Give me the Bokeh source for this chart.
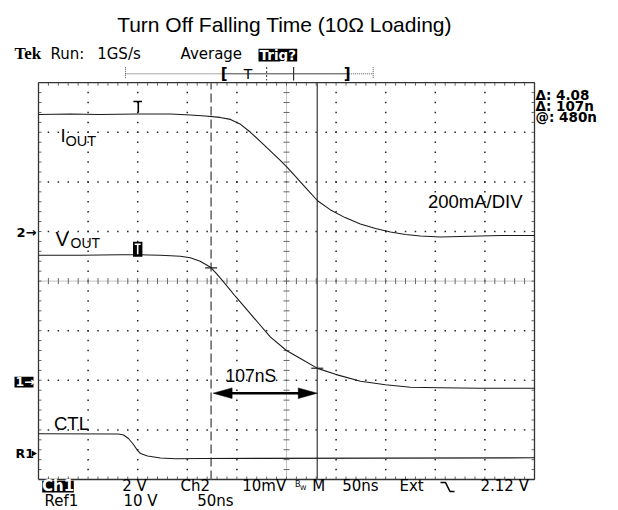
import numpy as np
from bokeh.plotting import figure
from bokeh.models import Range1d
from bokeh.core.properties import value
from bokeh.embed import file_html
from bokeh.resources import INLINE

# ---------------- data (time: ns from left screen edge, level: divisions from bottom) -------------
iout_t = [0, 32, 62, 100, 133, 153, 168, 183, 193.5, 203.6, 213.7, 223.8, 233.9, 244, 250, 259, 269,
          281.3, 294, 309, 324.5, 339.7, 354.8, 370, 385, 405, 425, 445.6, 465.7, 500]
iout_v = [7.36, 7.37, 7.36, 7.37, 7.37, 7.35, 7.33, 7.30, 7.26, 7.16, 7.00, 6.81, 6.62, 6.43, 6.31,
          6.11, 5.89, 5.62, 5.44, 5.28, 5.15, 5.06, 4.99, 4.94, 4.91, 4.89, 4.90, 4.91, 4.92, 4.92]

vout_t = [0, 42, 83, 100, 123, 143, 153, 163, 173.4, 179.4, 185.5, 198.6, 210.7, 221.8, 233.9, 250,
          264, 281.3, 299.4, 324.6, 349.8, 375, 405, 445.6, 500]
vout_v = [4.52, 4.52, 4.53, 4.53, 4.52, 4.50, 4.47, 4.40, 4.28, 4.15, 4.01, 3.69, 3.41, 3.15, 2.87,
          2.60, 2.44, 2.24, 2.12, 1.98, 1.91, 1.86, 1.85, 1.84, 1.84]

ctl_t = [0, 80.6, 85.7, 90.7, 95.8, 99.8, 102.8, 109.9, 123, 138.1, 163.3, 500]
ctl_v = [0.921, 0.917, 0.897, 0.827, 0.706, 0.585, 0.524, 0.474, 0.433, 0.417, 0.423, 0.437]

cursor_t = [174, 281]          # ns, cursor positions (delta = 107 ns)
trig_t = 100                   # ns, trigger position
arrow_label = "107nS"
scale_label = "200mA/DIV"
title_text = "Turn Off Falling Time (10\u03a9 Loading)"
readouts = ["\u0394: 4.08", "\u0394: 107n", "@: 480n"]
bottom_row1 = [("2 V", 121.7), ("Ch2", 180.0), ("10mV", 241.7), ("M", 311.7), ("50ns", 341.7),
               ("Ext", 399.0), ("2.12 V", 480.0)]
bottom_row2 = [("Ref1", 44.0), ("10 V", 123.0), ("50ns", 196.7)]

# ---------------- geometry ----------------
PXDIV = 49.6                    # pixels per division
NSDIV = 50.0                    # ns per division
NDIVX, NDIVY = 10, 8
GL, GB = 38.0, 479.0            # picture px of graticule left / bottom
W, H = 618, 510


def X(px):
    return (px - GL) * NSDIV / PXDIV


def Y(py):
    return (GB - py) / PXDIV


PXNS = NSDIV / PXDIV            # ns per pixel
PXD = 1.0 / PXDIV               # div per pixel

p = figure(width=W, height=H, output_backend="svg", toolbar_location=None,
           x_axis_location=None, y_axis_location=None,
           x_range=Range1d(X(0), X(W)), y_range=Range1d(Y(H), Y(0)),
           min_border=0, outline_line_color=None, background_fill_color="white")
p.grid.visible = False

XMAX = NDIVX * NSDIV

# graticule dots
dx, dy = [], []
for j in range(1, NDIVY):
    if j == NDIVY // 2:
        continue
    for k in range(1, NDIVX * 5):
        dx.append(k * NSDIV / 5)
        dy.append(j)
for i in range(1, NDIVX):
    if i == NDIVX // 2:
        continue
    for m in range(1, NDIVY * 5):
        dx.append(i * NSDIV)
        dy.append(m / 5)
p.scatter(dx, dy, marker="square", size=1.5, fill_color="#222", line_color=None)

# center lines
p.line([0, XMAX], [NDIVY / 2] * 2, line_color="#888", line_width=1, line_dash="1 1")
p.line([XMAX / 2] * 2, [0, NDIVY], line_color="#888", line_width=1, line_dash="1 1")
tk = 3
sx0, sy0, sx1, sy1 = [], [], [], []
for k in range(1, NDIVX * 5):
    x = k * NSDIV / 5
    sx0 += [x, x, x]; sx1 += [x, x, x]
    sy0 += [NDIVY / 2 - tk * PXD, NDIVY, 0]
    sy1 += [NDIVY / 2 + tk * PXD, NDIVY - tk * PXD, tk * PXD]
for m in range(1, NDIVY * 5):
    y = m / 5
    sy0 += [y, y, y]; sy1 += [y, y, y]
    sx0 += [XMAX / 2 - tk * PXNS, 0, XMAX]
    sx1 += [XMAX / 2 + tk * PXNS, tk * PXNS, XMAX - tk * PXNS]
p.segment(sx0, sy0, sx1, sy1, line_color="#666", line_width=1)

# border
p.line([0, XMAX, XMAX, 0, 0], [0, 0, NDIVY, NDIVY, 0], line_color="#333", line_width=1.3)

# cursors
t1, t2 = cursor_t
p.line([t1, t1], [0, NDIVY], line_color="#6a6a6a", line_width=1.6, line_dash="9 4")
p.line([t2, t2], [0, NDIVY], line_color="#555", line_width=1.4)

# traces
p.line(iout_t, iout_v, line_color="#1a1a1a", line_width=1.1)
p.line(vout_t, vout_v, line_color="#1a1a1a", line_width=1.1)
p.line(ctl_t, ctl_v, line_color="#1a1a1a", line_width=1.1)

# cursor intersection ticks on V_OUT
v1 = float(np.interp(t1, vout_t, vout_v))
v2 = float(np.interp(t2, vout_t, vout_v))
p.segment([t1 - 6 * PXNS, t2 - 6 * PXNS], [v1, v2], [t1 + 6 * PXNS, t2 + 6 * PXNS], [v1, v2],
          line_color="#222", line_width=1.2)

# trigger markers
iv = float(np.interp(trig_t, iout_t, iout_v))
vv = float(np.interp(trig_t, vout_t, vout_v))
p.segment([trig_t - 4.3 * PXNS, trig_t + 0.6 * PXNS], [iv + 12.5 * PXD, iv + 12.5 * PXD],
          [trig_t + 4.3 * PXNS, trig_t + 0.6 * PXNS], [iv + 12.5 * PXD, iv + 1.5 * PXD],
          line_color="black", line_width=1.6)
p.quad(left=[trig_t - 4.7 * PXNS], right=[trig_t + 4.7 * PXNS],
       bottom=[vv - 2 * PXD], top=[vv + 13 * PXD], fill_color="black", line_color=None)
p.segment([trig_t - 3 * PXNS, trig_t], [vv + 10.5 * PXD, vv + 10.5 * PXD],
          [trig_t + 3 * PXNS, trig_t], [vv + 10.5 * PXD, vv + 0.5 * PXD],
          line_color="white", line_width=1.6)

# double arrow between cursors
ya = Y(392.7)
a0, a1 = t1 + 2 * PXNS, t2
hl, hh = 19 * PXNS, 5.3 * PXD
p.line([a0 + hl - 1, a1 - hl + 1], [ya, ya], line_color="black", line_width=2.6)
p.patches([[a0, a0 + hl, a0 + hl], [a1, a1 - hl, a1 - hl]],
          [[ya, ya + hh, ya - hh], [ya, ya + hh, ya - hh]], fill_color="black", line_color="black",
          line_width=0.5)

BASE_FIX = 0.37   # em; compensates the renderer's baseline placement


def txt(px, py, s, size, font="Liberation Sans", align="left", color="black", weight="normal"):
    p.text(x=[X(px)], y=[Y(py - BASE_FIX * size)], text=[s], text_font=value(font),
           text_font_size=value(f"{size}px"), text_align=value(align),
           text_baseline=value("alphabetic"), text_color=color, text_font_style=value(weight))


# title
txt(284, 32, title_text, 21, align="center")

# trace labels
txt(60.0, 141.7, "I", 18.5)
txt(65.0, 145.7, "OUT", 14.5)
txt(55.0, 245.7, "V", 20)
txt(70.0, 247.7, "OUT", 14.0)
txt(53.5, 430.0, "CTL", 18.5)
txt(427.5, 208.3, scale_label, 18.5)
txt(225.0, 381.7, arrow_label, 17.5)

# scope header
SF = "DejaVu Sans"
txt(14, 59.3, "Tek", 17, font="Liberation Serif", weight="bold")
txt(50, 59.3, "Run:", 15, font=SF)
txt(96.7, 59.3, "1GS/s", 15, font=SF)
txt(180, 59.3, "Average", 15, font=SF)
p.quad(left=[X(258)], right=[X(296.7)], top=[Y(48.3)], bottom=[Y(61)], fill_color="black",
       line_color=None)
txt(277.3, 59.0, "Trig?", 13.5, font=SF, align="center", color="white", weight="bold")

# record bar
bl, br = 222.3, 348.3
ybar = Y(73.3)


def recpos(t):
    return X(bl + t / XMAX * (br - bl))


p.line([X(125), X(bl)], [ybar, ybar], line_color="#555", line_dash="1 1")
p.line([X(br), X(372.7)], [ybar, ybar], line_color="#555", line_dash="1 1")
p.line([X(bl), X(br)], [ybar, ybar], line_color="#444", line_width=1)
p.segment([X(125), X(372.7)], [Y(66.7)] * 2, [X(125), X(372.7)], [Y(78.5)] * 2,
          line_color="#555", line_dash="1 1")
p.segment([recpos(t1)], [Y(66.5)], [recpos(t1)], [Y(80)], line_color="#333", line_dash="2 2")
p.segment([recpos(t2)], [Y(66.5)], [recpos(t2)], [Y(80)], line_color="#333", line_width=1.2)
txt(bl + 1.5, 79, "[", 15, font=SF, align="center", weight="bold")
txt(br - 1.5, 79, "]", 15, font=SF, align="center", weight="bold")
p.text(x=[recpos(trig_t)], y=[Y(79 - BASE_FIX * 14)], text=["T"], text_font=value(SF),
       text_font_size=value("14px"), text_align=value("center"),
       text_baseline=value("alphabetic"), text_color="black")

# readouts at right
for n, s in enumerate(readouts):
    txt(535, 99.0 + 11.0 * n, s, 13.5, font=SF, weight="bold")

# channel markers at left
txt(16, 236.5, "2\u2192", 13, font=SF, weight="bold")
p.quad(left=[X(14)], right=[X(33)], top=[Y(376.2)], bottom=[Y(387)], fill_color="black",
       line_color=None)
txt(15, 386, "1\u2192", 12.5, font=SF, color="white", weight="bold")
txt(15, 457.5, "R1", 12.5, font=SF, weight="bold")
p.scatter([X(33)], [Y(453)], marker="triangle", angle=-np.pi / 2, size=6, fill_color="black",
          line_color=None)

# bottom readouts
p.quad(left=[X(41.7)], right=[X(73.3)], top=[Y(480.3)], bottom=[Y(492)], fill_color="black",
       line_color=None)
txt(57.5, 491.3, "Ch1", 15, font=SF, align="center", color="white", weight="bold")
for s, xx in bottom_row1:
    txt(xx, 491.5, s, 15, font=SF)
for s, xx in bottom_row2:
    txt(xx, 506.5, s, 15, font=SF)
txt(294.5, 487, "B", 8, font=SF)
txt(299.5, 489.5, "W", 6.5, font=SF)
# falling-slope symbol
p.line([X(440), X(445), X(449.5), X(454)], [Y(482), Y(482), Y(491), Y(491)],
       line_color="black", line_width=1.6)

open("out.html", "w").write(file_html(p, INLINE))
